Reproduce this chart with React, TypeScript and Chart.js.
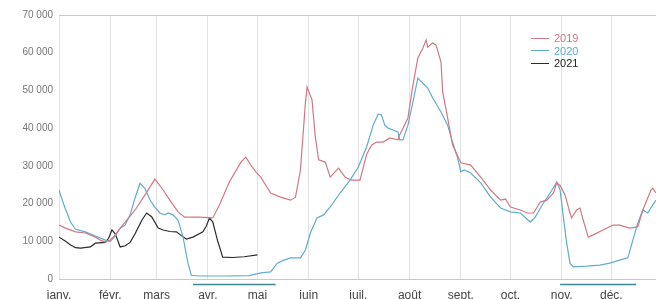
import React, { useEffect, useRef } from "react";
import { Chart, registerables } from "chart.js";

Chart.register(...registerables);

const monthStarts = [0, 31, 59, 90, 120, 151, 181, 212, 243, 273, 304, 334];
const monthLabels = ["janv.", "févr.", "mars", "avr.", "mai", "juin", "juil.", "août", "sept.", "oct.", "nov.", "déc."];
const yTicks = [0, 10000, 20000, 30000, 40000, 50000, 60000, 70000];

const seriesNames = ["2019", "2020", "2021"];
const seriesColors = ["#d27884", "#5eaecb", "#2b2b2b"];

const days2019 = [0, 4, 10, 16, 22, 25, 28, 31, 34, 37, 40, 46, 52, 58, 63, 67, 72, 76, 85, 93, 97, 103, 110, 113, 116, 119, 122, 128, 134, 140, 143, 146, 149, 150, 153, 155, 157, 161, 164, 169, 173, 177, 182, 186, 189, 192, 196, 200, 205, 206, 211, 214, 217, 220, 222, 223, 226, 228, 231, 232, 235, 238, 243, 249, 255, 261, 267, 270, 273, 279, 283, 287, 291, 295, 299, 301, 303, 306, 309, 310, 313, 315, 317, 320, 323, 329, 335, 339, 345, 350, 353, 358, 359, 361];
const values2019 = [14300, 13500, 12500, 12200, 11100, 10300, 9800, 10300, 11700, 13500, 15100, 18300, 22300, 26500, 23600, 20900, 17800, 16400, 16400, 16200, 19600, 25700, 31000, 32300, 30200, 28400, 27000, 22800, 21700, 20900, 21700, 28900, 46700, 50900, 47500, 37700, 31600, 31000, 27000, 29400, 27000, 26200, 26200, 33000, 35500, 36300, 36300, 37400, 36900, 38200, 42700, 51400, 58600, 61200, 63400, 61500, 62600, 62000, 57500, 49600, 42700, 35500, 30800, 30200, 27000, 23600, 20900, 21200, 19100, 18300, 17500, 17500, 20400, 20900, 22800, 25500, 24800, 22300, 17500, 16200, 18300, 18800, 15600, 11100, 11700, 13000, 14300, 14300, 13500, 13800, 18300, 23600, 24100, 22800];

const days2020 = [0, 3, 7, 10, 16, 22, 28, 31, 34, 37, 40, 43, 46, 49, 52, 55, 58, 61, 64, 66, 69, 72, 75, 78, 80, 85, 100, 115, 122, 128, 132, 136, 140, 146, 149, 152, 156, 160, 164, 170, 176, 181, 186, 190, 193, 195, 197, 199, 202, 205, 206, 208, 211, 214, 217, 218, 223, 226, 231, 235, 238, 241, 243, 245, 249, 255, 261, 267, 273, 279, 285, 288, 293, 297, 301, 303, 305, 307, 309, 311, 319, 327, 333, 339, 344, 347, 350, 353, 356, 359, 361];
const values2020 = [23600, 19600, 15100, 13200, 12500, 11400, 10300, 10000, 11400, 13500, 14300, 17000, 21500, 25400, 24000, 21000, 19000, 17500, 17000, 17500, 17000, 15600, 11100, 4200, 1000, 800, 800, 900, 1600, 1900, 4200, 5000, 5600, 5600, 7700, 12200, 16200, 17000, 19100, 22800, 26200, 29700, 35000, 40800, 43700, 43500, 40800, 40000, 39500, 39000, 36900, 36900, 40800, 46900, 53300, 52800, 50600, 48000, 44300, 40800, 36300, 32100, 28400, 28900, 28100, 25500, 21700, 18800, 17800, 17500, 15100, 16400, 20200, 22800, 25700, 23600, 16400, 9500, 4200, 3200, 3400, 3700, 4200, 5000, 5600, 10300, 14800, 18300, 17500, 19600, 20900];

const days2021 = [0, 4, 7, 10, 13, 19, 22, 28, 30, 32, 34, 37, 40, 43, 46, 50, 53, 56, 60, 63, 67, 71, 74, 77, 81, 87, 89, 91, 93, 96, 99, 105, 112, 120];
const values2021 = [11100, 10000, 9000, 8300, 8200, 8500, 9500, 9700, 10800, 13000, 12000, 8500, 8800, 9700, 12000, 15500, 17500, 16500, 13500, 13000, 12600, 12500, 11500, 10600, 11100, 12500, 14000, 16200, 15100, 10000, 5800, 5700, 5900, 6400];

const lockdownStarts = [81, 303];
const lockdownEnds = [131, 349];

const fmt = (v: number) => String(v).replace(/\B(?=(\d{3})+(?!\d))/g, " ");

const lockdownPlugin = {
  id: "lockdowns",
  afterDraw(chart: any) {
    const { ctx, chartArea, scales } = chart;
    ctx.save();
    ctx.strokeStyle = "#3f8a92";
    ctx.lineWidth = 1.3;
    lockdownStarts.forEach((s, i) => {
      const x1 = scales.x.getPixelForValue(s);
      const x2 = scales.x.getPixelForValue(lockdownEnds[i]);
      const y = chartArea.bottom + 5.5;
      ctx.beginPath();
      ctx.moveTo(x1, y);
      ctx.lineTo(x2, y);
      ctx.stroke();
    });
    ctx.restore();
  },
};

export default function App() {
  const canvasRef = useRef<HTMLCanvasElement | null>(null);

  useEffect(() => {
    document.body.style.margin = "0";
    const build = (d: number[], v: number[]) => d.map((x, i) => ({ x, y: v[i] }));
    const all = [
      build(days2019, values2019),
      build(days2020, values2020),
      build(days2021, values2021),
    ];
    const chart = new Chart(canvasRef.current as HTMLCanvasElement, {
      type: "line",
      data: {
        datasets: all.map((data, i) => ({
          label: seriesNames[i],
          data,
          borderColor: seriesColors[i],
          borderWidth: 1.2,
          pointRadius: 0,
          tension: 0,
          fill: false,
        })),
      },
      options: {
        animation: false,
        responsive: false,
        layout: { padding: { top: 15, left: 0, right: 0, bottom: 0 } },
        plugins: { legend: { display: false }, tooltip: { enabled: false }, title: { display: false } },
        scales: {
          x: {
            type: "linear",
            min: 0,
            max: 361,
            afterBuildTicks: (scale: any) => {
              scale.ticks = monthStarts.map((value) => ({ value }));
            },
            afterFit: (scale: any) => {
              scale.height = 20;
            },
            ticks: {
              autoSkip: false,
              maxRotation: 0,
              padding: 9,
              color: "#444",
              font: { family: "Liberation Sans, Arial, sans-serif", size: 12 },
              callback: (value: any) => {
                const idx = monthStarts.indexOf(Number(value));
                return idx >= 0 ? monthLabels[idx] : "";
              },
            },
            grid: { color: "#e2e2e2", drawTicks: false, lineWidth: 1 },
            border: { display: false },
          },
          y: {
            min: 0,
            max: 70000,
            afterBuildTicks: (scale: any) => {
              scale.ticks = yTicks.map((value) => ({ value }));
            },
            afterFit: (scale: any) => {
              scale.width = 59;
            },
            ticks: {
              padding: 6,
              color: "#777",
              font: { family: "Liberation Sans, Arial, sans-serif", size: 10 },
              callback: (value: any) => fmt(Number(value)),
            },
            grid: {
              drawTicks: false,
              color: (ctx: any) =>
                ctx.tick && (ctx.tick.value === 0 || ctx.tick.value === 70000) ? "#c8c8c8" : "rgba(0,0,0,0)",
            },
            border: { display: false },
          },
        },
      },
      plugins: [lockdownPlugin],
    });
    return () => chart.destroy();
  }, []);

  return (
    <div style={{ position: "fixed", left: 0, top: 0, width: 656, height: 299, background: "#fff" }}>
      <canvas ref={canvasRef} width={656} height={299} style={{ display: "block" }} />
      <div
        style={{
          position: "absolute",
          left: 531,
          top: 32,
          fontFamily: "Liberation Sans, Arial, sans-serif",
          fontSize: 11,
          lineHeight: "12.5px",
        }}
      >
        {seriesNames.map((n, i) => (
          <div key={n} style={{ display: "flex", alignItems: "center", height: 12.5 }}>
            <span style={{ display: "inline-block", width: 18, height: 0, borderTop: `1.5px solid ${seriesColors[i]}`, marginRight: 5 }} />
            <span style={{ color: i === 2 ? "#222" : seriesColors[i] }}>{n}</span>
          </div>
        ))}
      </div>
    </div>
  );
}
